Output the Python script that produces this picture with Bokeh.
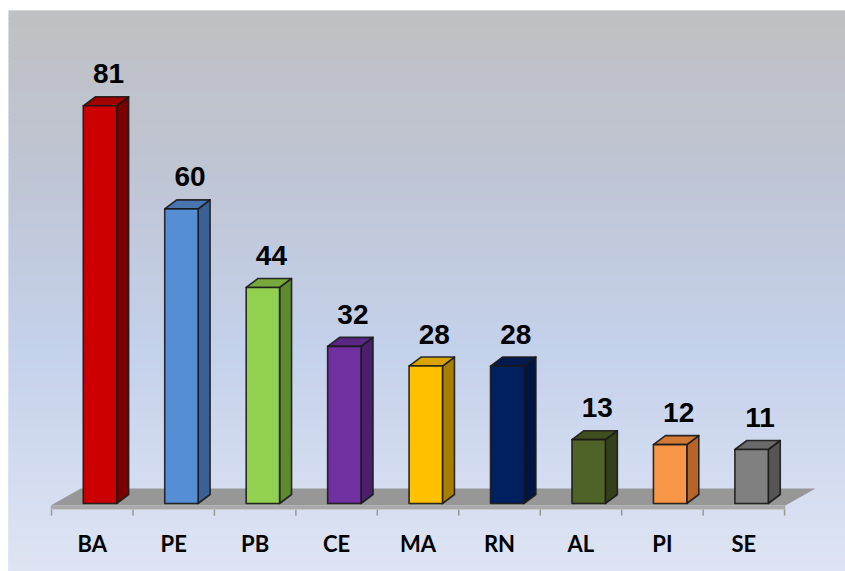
import numpy as np
from bokeh.plotting import figure
from bokeh.models import Range1d, ColumnDataSource
from bokeh.core.properties import value
from bokeh.embed import file_html
from bokeh.resources import INLINE

# ---- data ----
categories = ["BA", "PE", "PB", "CE", "MA", "RN", "AL", "PI", "SE"]
values = [81, 60, 44, 32, 28, 28, 13, 12, 11]
front_colors = ["#CC0000", "#558ED5", "#92D050", "#7030A0", "#FFC000",
                "#002060", "#4F6228", "#F79646", "#808080"]
side_colors = ["#7A0000", "#3A6196", "#5E8A2F", "#4A1F6B", "#A87E00",
               "#001540", "#33401A", "#B5652A", "#555555"]
top_colors = ["#A00000", "#4874B0", "#77A83C", "#5B2785", "#D9A300",
              "#001A50", "#3F4F20", "#D27A35", "#6A6A6A"]

W, H = 845, 571
x0, x1 = -0.528, 9.748
y0, y1 = -13.85, 100.41

p = figure(width=W, height=H, output_backend="svg", toolbar_location=None,
           x_range=Range1d(x0, x1), y_range=Range1d(y0, y1),
           min_border_left=8, min_border_right=0, min_border_bottom=0,
           min_border_top=10)
p.xaxis.visible = False
p.yaxis.visible = False
p.xgrid.visible = False
p.ygrid.visible = False
p.outline_line_color = None
p.border_fill_color = "white"
p.background_fill_color = "#c4cfe6"

# ---- background gradient (decoration) ----
stops = [(0.0, (191, 192, 194)), (0.30, (191, 197, 212)),
         (0.60, (196, 209, 235)), (1.0, (222, 228, 243))]
n = 120
edges = np.linspace(y1, y0, n + 1)
cols = []
for k in range(n):
    t = (k + 0.5) / n
    for j in range(len(stops) - 1):
        if stops[j][0] <= t <= stops[j + 1][0]:
            a = (t - stops[j][0]) / (stops[j + 1][0] - stops[j][0])
            c = [int(round(stops[j][1][m] + a * (stops[j + 1][1][m] - stops[j][1][m]))) for m in range(3)]
            break
    cols.append("#%02x%02x%02x" % tuple(c))
step = (y1 - y0) / n
p.quad(left=x0, right=x1, top=edges[:-1] + step * 0.3, bottom=edges[1:],
       fill_color=cols, line_color=None)

# ---- floor ----
fx0, fx1 = -0.01, 9.01
f_front_top, f_front_bot, f_back = -0.4, -1.22, 3.05
f_dx = 0.37
p.patch([fx0, fx0 + f_dx, fx1 + f_dx, fx1], [f_front_top, f_back, f_back, f_front_top],
        fill_color="#979797", line_color=None)
p.quad(left=fx0, right=fx1, top=f_front_top, bottom=f_front_bot,
       fill_color="#a9a9a9", line_color=None)
p.segment(x0=[fx0], y0=[f_front_bot], x1=[fx1], y1=[f_front_bot],
          line_color="#c8c8c8", line_width=1)
ticks = np.arange(0, len(categories) + 1)
p.segment(x0=ticks, y0=f_front_bot, x1=ticks, y1=f_front_bot - 1.25,
          line_color="#9a9a9a", line_width=1.5)

# ---- 3D bars ----
bl, br = 0.39, 0.80
dx, dy = 0.147, 1.83
idx = np.arange(len(categories))
L = idx + bl
R = idx + br
v = np.array(values, dtype=float)
outline = dict(line_color="#1a1a1a", line_width=1.6, line_alpha=0.9, line_join="round")

side_xs = [[r, r + dx, r + dx, r] for r in R]
side_ys = [[0, dy, vv + dy, vv] for vv in v]
p.patches(side_xs, side_ys, fill_color=side_colors, **outline)
top_xs = [[l, l + dx, r + dx, r] for l, r in zip(L, R)]
top_ys = [[vv, vv + dy, vv + dy, vv] for vv in v]
p.patches(top_xs, top_ys, fill_color=top_colors, **outline)
p.quad(left=L, right=R, bottom=0, top=v, fill_color=front_colors, **outline)

# ---- value labels ----
src = ColumnDataSource(dict(x=idx + 0.70, y=v + 6.5, t=[str(x) for x in values]))
p.text(x="x", y="y", text="t", source=src, text_align="center",
       text_baseline="middle", text_font=value("Liberation Sans"),
       text_font_style="bold", text_font_size="28px", text_color="black")

# ---- category labels ----
src2 = ColumnDataSource(dict(x=idx + 0.5, y=np.full(len(categories), -8.15), t=categories))
p.text(x="x", y="y", text="t", source=src2, text_align="center",
       text_baseline="middle", text_font=value("Lato"),
       text_font_style="bold", text_font_size="22px", text_color="black")

open("out.html", "w").write(file_html(p, INLINE))
